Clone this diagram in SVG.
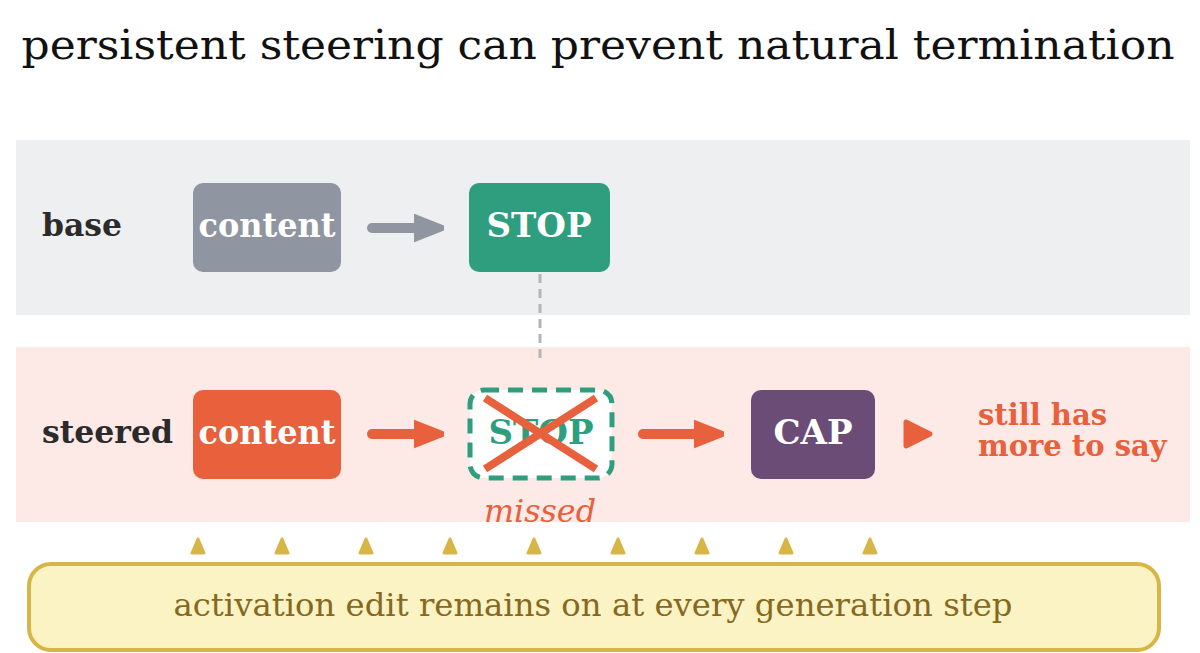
<svg xmlns="http://www.w3.org/2000/svg" width="1200" height="653" viewBox="0 0 1200 653">
<style>
.t{font-family:"DejaVu Serif","Liberation Serif",serif}
.lbl{font-family:"DejaVu Serif",serif;font-weight:bold;font-size:32px;fill:#2b2b2b}
.box{font-family:"DejaVu Serif",serif;font-weight:bold;font-size:34px;fill:#ffffff;text-anchor:middle}
.arr{stroke-width:10;stroke-linecap:round;fill:none}
</style>
<defs>
<marker id="hg" viewBox="0 0 10 10" refX="2" refY="5" markerWidth="3" markerHeight="3" orient="auto" markerUnits="strokeWidth"><path d="M0,1 L10,5 L0,9 Z" fill="#8f96a1" stroke="#8f96a1" stroke-width="1.5" stroke-linejoin="round"/></marker>
<marker id="ho" viewBox="0 0 10 10" refX="2" refY="5" markerWidth="3" markerHeight="3" orient="auto" markerUnits="strokeWidth"><path d="M0,1 L10,5 L0,9 Z" fill="#e8603c" stroke="#e8603c" stroke-width="1.5" stroke-linejoin="round"/></marker>
</defs>
<rect width="1200" height="653" fill="#ffffff"/>
<text class="t" x="598" y="59" font-size="41" text-anchor="middle" fill="#111" textLength="1153" lengthAdjust="spacingAndGlyphs">persistent steering can prevent natural termination</text>
<rect x="16" y="140" width="1174" height="175" fill="#eeeff1"/>
<rect x="16" y="347" width="1174" height="175" fill="#fdeae6"/>
<text class="lbl" x="42" y="236" textLength="80" lengthAdjust="spacingAndGlyphs">base</text>
<text class="lbl" x="42" y="443" textLength="131" lengthAdjust="spacingAndGlyphs">steered</text>
<g id="connectors">
<line class="arr" x1="372" y1="228" x2="420" y2="228" stroke="#8f96a1" marker-end="url(#hg)"/>
<line x1="540" y1="274" x2="540" y2="360" stroke="#b5b5b5" stroke-width="3" stroke-dasharray="9,6"/>
<line class="arr" x1="372" y1="434" x2="420" y2="434" stroke="#e8603c" marker-end="url(#ho)"/>
<line class="arr" x1="643" y1="434" x2="700" y2="434" stroke="#e8603c" marker-end="url(#ho)"/>
<path d="M906,422 L930,434 L906,446 Z" fill="#e8603c" stroke="#e8603c" stroke-width="5" stroke-linejoin="round"/>
<g fill="#d8b646" stroke="#d8b646" stroke-width="3" stroke-linejoin="round">
<path d="M198,539 L204,553 L192,553 Z"/>
<path d="M282,539 L288,553 L276,553 Z"/>
<path d="M366,539 L372,553 L360,553 Z"/>
<path d="M450,539 L456,553 L444,553 Z"/>
<path d="M534,539 L540,553 L528,553 Z"/>
<path d="M618,539 L624,553 L612,553 Z"/>
<path d="M702,539 L708,553 L696,553 Z"/>
<path d="M786,539 L792,553 L780,553 Z"/>
<path d="M870,539 L876,553 L864,553 Z"/>
</g>
</g>
<g id="base-content"><rect x="193" y="183" width="148" height="89" rx="10" fill="#8f96a1"/><text class="box" x="267" y="237" textLength="137" lengthAdjust="spacingAndGlyphs">content</text></g>
<g id="base-stop"><rect x="469" y="183" width="141" height="89" rx="10" fill="#2e9e7e"/><text class="box" x="539" y="237">STOP</text></g>
<g id="steered-content"><rect x="193" y="390" width="148" height="89" rx="10" fill="#e8603c"/><text class="box" x="267" y="444" textLength="137" lengthAdjust="spacingAndGlyphs">content</text></g>
<g id="missed-stop">
<rect x="470" y="390" width="142" height="88" rx="14" fill="#ffffff" stroke="#2e9e7e" stroke-width="5" stroke-dasharray="15,9"/>
<text class="box" x="541" y="444" style="fill:#2e9e7e">STOP</text>
<line x1="485" y1="398" x2="596" y2="469" stroke="#e8603c" stroke-width="8"/>
<line x1="485" y1="469" x2="596" y2="398" stroke="#e8603c" stroke-width="8"/>
<text class="t" x="540" y="522" font-size="32" font-style="italic" text-anchor="middle" fill="#e8603c" textLength="112" lengthAdjust="spacingAndGlyphs">missed</text>
</g>
<g id="cap"><rect x="751" y="390" width="124" height="89" rx="10" fill="#6b4c77"/><text class="box" x="813" y="444">CAP</text></g>
<g id="still">
<text class="t" font-size="29" font-weight="bold" fill="#e8603c"><tspan x="978" y="425">still has</tspan><tspan x="978" y="456">more to say</tspan></text>
</g>
<g id="edit">
<rect x="29" y="564" width="1130" height="86" rx="22" fill="#fcf3c4" stroke="#d8b646" stroke-width="4"/>
<text class="t" x="593" y="616" font-size="32" text-anchor="middle" fill="#86691f" textLength="839" lengthAdjust="spacingAndGlyphs">activation edit remains on at every generation step</text>
</g>
</svg>
